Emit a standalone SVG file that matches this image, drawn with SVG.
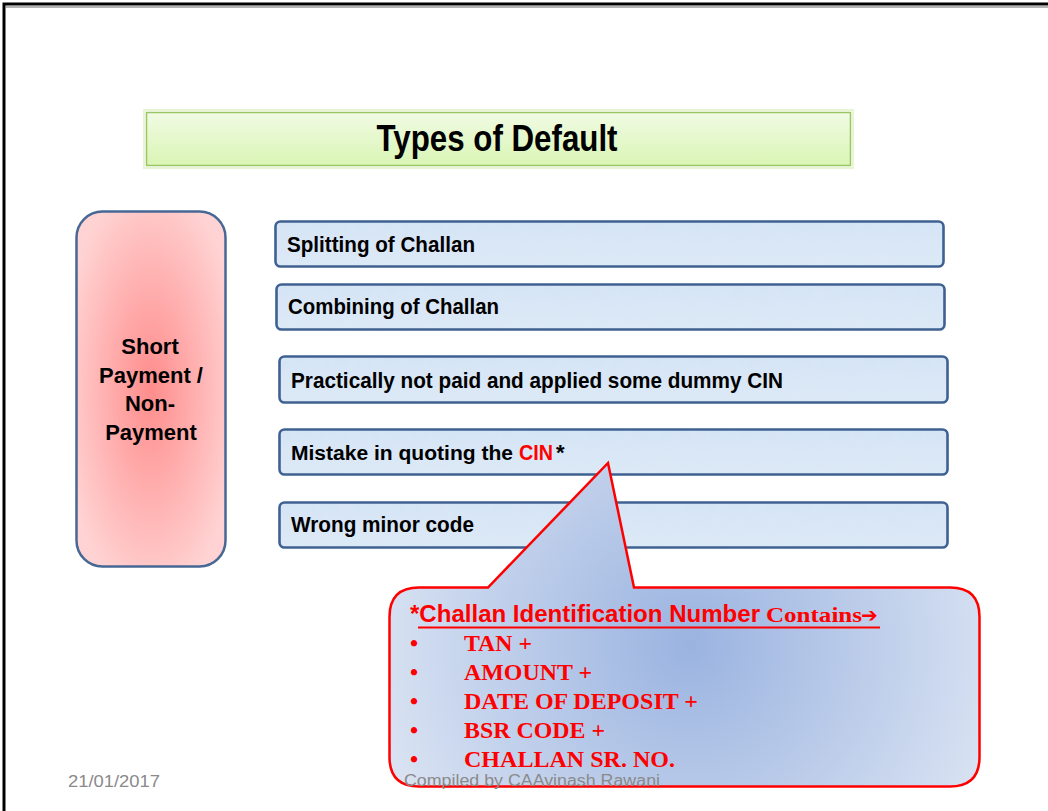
<svg xmlns="http://www.w3.org/2000/svg" width="1048" height="811" viewBox="0 0 1048 811">
<style>
.barf{fill:url(#barG);stroke:none}
.bars{fill:none;stroke:#3f6191;stroke-width:2.6}
.bt{font-family:"Liberation Sans Narrow","Liberation Sans",Arial,sans-serif;font-weight:bold;font-size:22px;fill:#000}
.ct{font-family:"Liberation Serif","Times New Roman",serif;font-weight:bold;font-size:23px;fill:#ff0000}
.ft{font-family:"Liberation Sans",Arial,sans-serif;font-size:16px;fill:#8a8a8a}
</style>
<defs>
<linearGradient id="titleG" x1="0" y1="0" x2="0" y2="1">
<stop offset="0" stop-color="#f1fbe4"/>
<stop offset="1" stop-color="#d9f5b4"/>
</linearGradient>
<radialGradient id="pinkG" cx="0.5" cy="0.5" r="0.6">
<stop offset="0" stop-color="#ff8c8c"/>
<stop offset="1" stop-color="#ffd3d3"/>
</radialGradient>
<linearGradient id="barG" x1="0" y1="0" x2="0" y2="1">
<stop offset="0" stop-color="#d5e4f5"/>
<stop offset="1" stop-color="#dde9f6"/>
</linearGradient>
<radialGradient id="calG" cx="690" cy="645" r="330" gradientUnits="userSpaceOnUse">
<stop offset="0" stop-color="#9ab3e0"/>
<stop offset="1" stop-color="#dbe4f3"/>
</radialGradient>
<filter id="tex" x="0" y="0" width="1" height="1">
<feTurbulence type="fractalNoise" baseFrequency="0.09" numOctaves="2" seed="3" result="n"/>
<feColorMatrix in="n" type="matrix" values="0 0 0 0 0.70  0 0 0 0 0.80  0 0 0 0 0.93  0 0 0 0.9 -0.25" result="c"/>
<feComposite in="c" in2="SourceGraphic" operator="in" result="t"/>
<feMerge><feMergeNode in="SourceGraphic"/><feMergeNode in="t"/></feMerge>
</filter>
</defs>

<g id="frame">
<path d="M4,811 V4 H1048" fill="none" stroke="#000" stroke-width="3"/>
<path d="M6,7 H1048" fill="none" stroke="#9a9a9a" stroke-width="1.5"/>
</g>

<g id="title">
<rect x="144" y="110" width="709" height="58" fill="none" stroke="#e6f5d2" stroke-width="2"/>
<rect x="146.5" y="112.5" width="704" height="53" fill="url(#titleG)" stroke="#9bc564" stroke-width="1.5"/>
<text x="497" y="151" text-anchor="middle" font-family="'Liberation Sans Narrow','Liberation Sans',Arial,sans-serif" font-weight="bold" font-size="37" textLength="241" lengthAdjust="spacingAndGlyphs">Types of Default</text>
</g>

<g id="short-payment">
<rect x="76.5" y="211.5" width="149" height="355" rx="26" fill="url(#pinkG)" stroke="#476894" stroke-width="2.5"/>
<text class="bt" text-anchor="middle"><tspan x="150" y="354">Short</tspan><tspan x="151" y="383">Payment /</tspan><tspan x="150" y="411">Non-</tspan><tspan x="151" y="440">Payment</tspan></text>
</g>

<g id="bar-splitting">
<rect class="barf" x="275.5" y="221.5" width="668" height="45" rx="5" filter="url(#tex)"/>
<rect class="bars" x="275.5" y="221.5" width="668" height="45" rx="5"/>
<text class="bt" x="287" y="252" textLength="188" lengthAdjust="spacingAndGlyphs">Splitting of Challan</text>
</g>
<g id="bar-combining">
<rect class="barf" x="276.5" y="284.5" width="668" height="45" rx="5" filter="url(#tex)"/>
<rect class="bars" x="276.5" y="284.5" width="668" height="45" rx="5"/>
<text class="bt" x="288" y="314" textLength="211" lengthAdjust="spacingAndGlyphs">Combining of Challan</text>
</g>
<g id="bar-dummy">
<rect class="barf" x="279.5" y="356.5" width="668" height="46" rx="5" filter="url(#tex)"/>
<rect class="bars" x="279.5" y="356.5" width="668" height="46" rx="5"/>
<text class="bt" x="291" y="388" textLength="492" lengthAdjust="spacingAndGlyphs">Practically not paid and applied some dummy CIN</text>
</g>
<g id="bar-mistake">
<rect class="barf" x="279.5" y="429.5" width="668" height="45" rx="5" filter="url(#tex)"/>
<rect class="bars" x="279.5" y="429.5" width="668" height="45" rx="5"/>
<text class="bt" x="291" y="460" style="font-size:20px" textLength="222" lengthAdjust="spacingAndGlyphs">Mistake in quoting the</text>
<text class="bt" x="519" y="460" style="fill:#ff0000" textLength="34" lengthAdjust="spacingAndGlyphs">CIN</text>
<text class="bt" x="556" y="460">*</text>
</g>
<g id="bar-minor">
<rect class="barf" x="279.5" y="502.5" width="668" height="45" rx="5" filter="url(#tex)"/>
<rect class="bars" x="279.5" y="502.5" width="668" height="45" rx="5"/>
<text class="bt" x="291" y="532" textLength="183" lengthAdjust="spacingAndGlyphs">Wrong minor code</text>
</g>

<g id="callout">
<path d="M419,587.5 H488 L608,463 L634,587.5 H950 Q979.5,587.5 979.5,617 V757 Q979.5,786.5 950,786.5 H419 Q389.5,786.5 389.5,757 V617 Q389.5,587.5 419,587.5 Z" fill="url(#calG)" stroke="#ff0000" stroke-width="2.5" stroke-linejoin="miter"/>
<text x="410" y="622" fill="#ff0000" font-weight="bold"><tspan font-family="'Liberation Sans Narrow','Liberation Sans',Arial,sans-serif" font-size="23" textLength="350" lengthAdjust="spacingAndGlyphs">*Challan Identification Number</tspan><tspan x="766" font-family="'Liberation Serif','Times New Roman',serif" font-size="22" textLength="96" lengthAdjust="spacingAndGlyphs">Contains</tspan><tspan x="861" font-family="'DejaVu Sans',sans-serif" font-size="20" font-weight="bold">➔</tspan></text>
<line x1="418" y1="627.5" x2="880" y2="627.5" stroke="#ff0000" stroke-width="2"/>
<g class="ct">
<text x="410" y="651">•</text><text x="464" y="651" textLength="68" lengthAdjust="spacingAndGlyphs">TAN +</text>
<text x="410" y="680">•</text><text x="464" y="680" textLength="128" lengthAdjust="spacingAndGlyphs">AMOUNT +</text>
<text x="410" y="709">•</text><text x="464" y="709" textLength="234" lengthAdjust="spacingAndGlyphs">DATE OF DEPOSIT +</text>
<text x="410" y="738">•</text><text x="464" y="738" textLength="141" lengthAdjust="spacingAndGlyphs">BSR CODE +</text>
<text x="410" y="767">•</text><text x="464" y="767" textLength="211" lengthAdjust="spacingAndGlyphs">CHALLAN SR. NO.</text>
</g>
</g>

<g id="footer">
<text class="ft" x="68" y="787" textLength="92" lengthAdjust="spacingAndGlyphs">21/01/2017</text>
<text class="ft" x="404" y="786" textLength="256" lengthAdjust="spacingAndGlyphs">Compiled by CAAvinash Rawani</text>
</g>
</svg>
